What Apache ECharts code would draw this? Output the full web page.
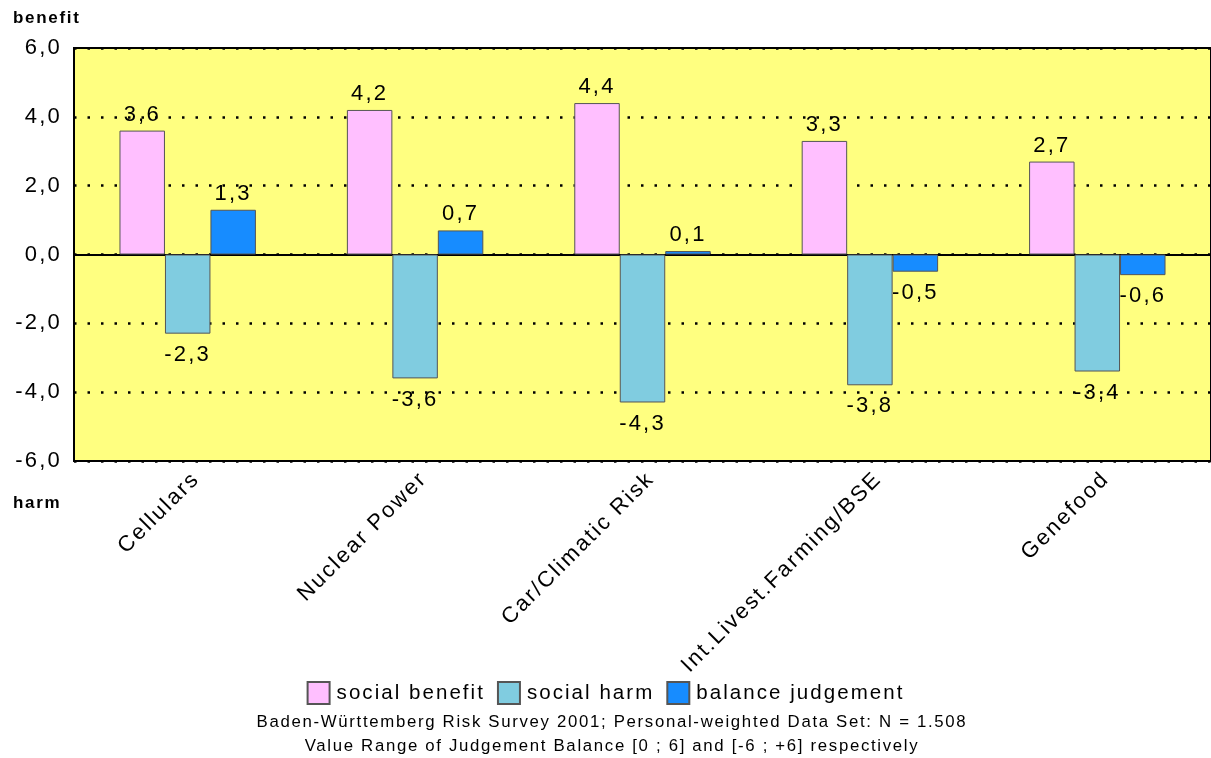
<!DOCTYPE html>
<html>
<head>
<meta charset="utf-8">
<script src="https://cdn.jsdelivr.net/npm/echarts@6/dist/echarts.min.js"></script>
<style>
  html, body { margin: 0; padding: 0; background: #fff; }
  #chart { width: 1211px; height: 758px; }
</style>
</head>
<body>
<div id="chart"></div>
<script>
var categories = ['Cellulars', 'Nuclear Power', 'Car/Climatic Risk', 'Int.Livest.Farming/BSE', 'Genefood'];
var socialBenefit = [3.6, 4.2, 4.4, 3.3, 2.7];
var socialHarm = [-2.3, -3.6, -4.3, -3.8, -3.4];
var balanceJudgement = [1.3, 0.7, 0.1, -0.5, -0.6];
var yTicks = [-6, -4, -2, 0, 2, 4, 6];

var font = 'Liberation Sans, Arial, Helvetica, sans-serif';

// the original text is set wide; give every canvas font a bit of letter spacing
(function () {
  var proto = CanvasRenderingContext2D.prototype;
  var d = Object.getOwnPropertyDescriptor(proto, 'font');
  if (!d || !('letterSpacing' in proto)) return;
  Object.defineProperty(proto, 'font', {
    configurable: true,
    get: d.get,
    set: function (v) {
      d.set.call(this, v);
      var m = /([\d.]+)px/.exec(v);
      this.letterSpacing = m ? (parseFloat(m[1]) * 0.1).toFixed(2) + 'px' : '0px';
    }
  });
})();

function fmt(v) {
  return v.toFixed(1).replace('.', ',');
}

// label above positive bars, below negative ones
function withLabels(arr) {
  return arr.map(function (v) {
    return {
      value: v,
      label: { position: v >= 0 ? 'top' : 'bottom', distance: v >= 0 ? 4 : 9 }
    };
  });
}

function barSeries(name, data, color) {
  return {
    name: name,
    type: 'bar',
    data: withLabels(data),
    barGap: '0%',
    barCategoryGap: '40%',
    itemStyle: { color: color, borderColor: '#555', borderWidth: 1 },
    label: {
      show: true,
      color: '#000',
      fontSize: 22,
      fontFamily: font,
      formatter: function (p) { return fmt(p.value); }
    }
  };
}

var chart = echarts.init(document.getElementById('chart'));
chart.setOption({
  animation: false,
  grid: {
    left: 74, top: 48, right: 0, bottom: 297,
    containLabel: false,
    outerBoundsMode: 'none',
    show: true,
    backgroundColor: '#ffff80',
    borderColor: '#000',
    borderWidth: 2
  },
  legend: {
    top: 676,
    left: 'center',
    itemWidth: 22,
    itemHeight: 22,
    itemGap: 12,
    icon: 'rect',
    textStyle: { fontSize: 20.5, fontFamily: font, color: '#000', padding: [0, 0, 0, 2] },
    data: ['social benefit', 'social harm', 'balance judgement']
  },
  xAxis: {
    type: 'category',
    data: categories,
    axisLine: { onZero: true, lineStyle: { color: '#000', width: 2 } },
    axisTick: { show: false },
    axisLabel: {
      rotate: 45,
      interval: 0,
      fontSize: 22,
      fontFamily: font,
      color: '#000',
      verticalAlign: 'top',
      margin: 6
    }
  },
  yAxis: {
    type: 'value',
    min: yTicks[0],
    max: yTicks[yTicks.length - 1],
    interval: 2,
    axisLine: { show: true, lineStyle: { color: '#000', width: 2 } },
    axisTick: { show: false },
    axisLabel: {
      fontSize: 22,
      fontFamily: font,
      color: '#000',
      margin: 12,
      formatter: function (v) { return fmt(v); }
    },
    splitLine: {
      show: true,
      lineStyle: { color: '#000', width: 2.5, type: [2.5, 11] }
    }
  },
  graphic: [
    { type: 'text', x: 13, y: 9, style: { text: 'benefit', fontSize: 17, fontWeight: 'bold', fontFamily: font, fill: '#000' } },
    { type: 'text', x: 13, y: 494, style: { text: 'harm', fontSize: 17, fontWeight: 'bold', fontFamily: font, fill: '#000' } },
    { type: 'text', x: 612, y: 713, style: { text: 'Baden-Württemberg Risk Survey 2001; Personal-weighted Data Set: N = 1.508', align: 'center', verticalAlign: 'top', fontSize: 16.8, fontFamily: font, fill: '#000' } },
    { type: 'text', x: 612, y: 737, style: { text: 'Value Range of Judgement Balance [0 ; 6] and [-6 ; +6] respectively', align: 'center', verticalAlign: 'top', fontSize: 16.8, fontFamily: font, fill: '#000' } }
  ],
  series: [
    barSeries('social benefit', socialBenefit, '#ffbfff'),
    barSeries('social harm', socialHarm, '#80cce0'),
    barSeries('balance judgement', balanceJudgement, '#178cff')
  ]
});
</script>
</body>
</html>
